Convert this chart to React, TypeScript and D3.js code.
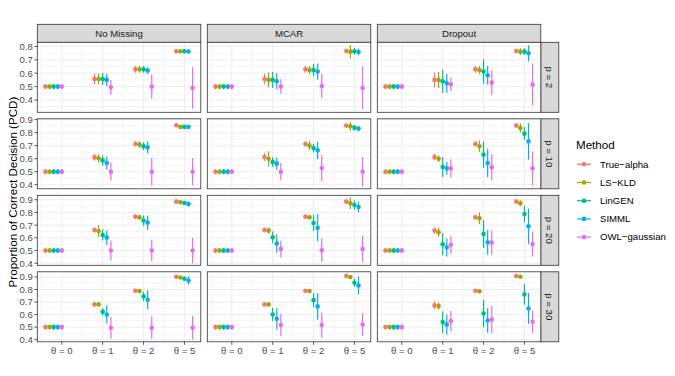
import React from "react";
import * as d3 from "d3";

// methods, colours and facet labels
const methods = ["True\u2212alpha", "LS\u2212KLD", "LinGEN", "SIMML", "OWL\u2212gaussian"];
const methodColors = ["#F8766D", "#A3A500", "#00BF7D", "#00B0F6", "#E76BF3"];
const thetas = ["\u03b8 = 0", "\u03b8 = 1", "\u03b8 = 2", "\u03b8 = 5"];
const missingTypes = ["No Missing", "MCAR", "Dropout"];
const pLabels = ["p = 2", "p = 10", "p = 20", "p = 30"];

// y limits of each p row (free y scales)
const yLimits = [
  [0.308, 0.831],
  [0.369, 0.906],
  [0.384, 0.935],
  [0.383, 0.941],
];

// PCD per panel: one row per theta, [mean, half-width] per method
const base = [[0.5, 0.02], [0.5, 0.02], [0.5, 0.02], [0.5, 0.02], [0.5, 0.02]];

const p2NoMissing = [
  base,
  [[0.557, 0.04], [0.557, 0.04], [0.557, 0.045], [0.55, 0.045], [0.495, 0.055]],
  [[0.629, 0.025], [0.629, 0.025], [0.629, 0.025], [0.62, 0.025], [0.5, 0.09]],
  [[0.764, 0.015], [0.764, 0.015], [0.764, 0.015], [0.762, 0.015], [0.49, 0.155]],
];
const p2MCAR = [
  base,
  [[0.557, 0.04], [0.55, 0.055], [0.55, 0.06], [0.54, 0.06], [0.5, 0.055]],
  [[0.629, 0.025], [0.624, 0.03], [0.624, 0.045], [0.612, 0.06], [0.505, 0.09]],
  [[0.766, 0.015], [0.761, 0.05], [0.764, 0.025], [0.759, 0.025], [0.49, 0.16]],
];
const p2Dropout = [
  base,
  [[0.55, 0.055], [0.55, 0.06], [0.54, 0.085], [0.525, 0.07], [0.517, 0.05]],
  [[0.629, 0.025], [0.624, 0.03], [0.612, 0.09], [0.585, 0.07], [0.53, 0.09]],
  [[0.766, 0.015], [0.761, 0.025], [0.761, 0.025], [0.749, 0.06], [0.515, 0.155]],
];

const p10NoMissing = [
  base,
  [[0.61, 0.025], [0.603, 0.032], [0.587, 0.04], [0.567, 0.05], [0.5, 0.068]],
  [[0.713, 0.02], [0.708, 0.025], [0.695, 0.03], [0.687, 0.045], [0.5, 0.105]],
  [[0.856, 0.01], [0.844, 0.015], [0.844, 0.015], [0.844, 0.015], [0.5, 0.105]],
];
const p10MCAR = [
  base,
  [[0.613, 0.03], [0.6, 0.058], [0.574, 0.037], [0.562, 0.048], [0.5, 0.067]],
  [[0.713, 0.02], [0.7, 0.035], [0.682, 0.033], [0.664, 0.068], [0.528, 0.1]],
  [[0.854, 0.01], [0.849, 0.035], [0.838, 0.02], [0.831, 0.02], [0.5, 0.113]],
];
const p10Dropout = [
  base,
  [[0.613, 0.025], [0.6, 0.025], [0.536, 0.077], [0.526, 0.05], [0.526, 0.07]],
  [[0.713, 0.02], [0.695, 0.044], [0.631, 0.1], [0.567, 0.11], [0.533, 0.1]],
  [[0.854, 0.01], [0.836, 0.035], [0.792, 0.05], [0.733, 0.14], [0.526, 0.13]],
];

const p20NoMissing = [
  base,
  [[0.662, 0.02], [0.654, 0.047], [0.623, 0.043], [0.602, 0.058], [0.5, 0.08]],
  [[0.767, 0.015], [0.762, 0.02], [0.736, 0.04], [0.72, 0.056], [0.5, 0.085]],
  [[0.885, 0.01], [0.88, 0.012], [0.874, 0.015], [0.867, 0.02], [0.5, 0.1]],
];
const p20MCAR = [
  base,
  [[0.662, 0.02], [0.657, 0.025], [0.605, 0.048], [0.555, 0.072], [0.513, 0.065]],
  [[0.767, 0.012], [0.762, 0.02], [0.717, 0.063], [0.68, 0.107], [0.503, 0.094]],
  [[0.885, 0.01], [0.872, 0.045], [0.859, 0.035], [0.843, 0.042], [0.513, 0.105]],
];
const p20Dropout = [
  base,
  [[0.657, 0.025], [0.644, 0.035], [0.55, 0.088], [0.524, 0.07], [0.545, 0.068]],
  [[0.762, 0.02], [0.754, 0.045], [0.631, 0.11], [0.565, 0.097], [0.563, 0.095]],
  [[0.885, 0.01], [0.872, 0.025], [0.788, 0.065], [0.691, 0.139], [0.552, 0.098]],
];

const p30NoMissing = [
  base,
  [[0.681, 0.015], [0.681, 0.015], [0.622, 0.03], [0.601, 0.073], [0.495, 0.085]],
  [[0.79, 0.012], [0.787, 0.015], [0.745, 0.037], [0.718, 0.076], [0.495, 0.09]],
  [[0.902, 0.008], [0.896, 0.01], [0.886, 0.015], [0.872, 0.033], [0.495, 0.094]],
];
const p30MCAR = [
  base,
  [[0.681, 0.015], [0.681, 0.015], [0.601, 0.053], [0.566, 0.084], [0.516, 0.088]],
  [[0.79, 0.012], [0.787, 0.012], [0.715, 0.055], [0.665, 0.106], [0.516, 0.1]],
  [[0.907, 0.008], [0.899, 0.008], [0.854, 0.033], [0.832, 0.073], [0.521, 0.09]],
];
const p30Dropout = [
  base,
  [[0.673, 0.03], [0.668, 0.03], [0.54, 0.085], [0.521, 0.08], [0.548, 0.08]],
  [[0.79, 0.012], [0.785, 0.015], [0.609, 0.11], [0.553, 0.097], [0.561, 0.11]],
  [[0.907, 0.008], [0.902, 0.008], [0.761, 0.082], [0.649, 0.124], [0.543, 0.09]],
];

const panels = [
  [p2NoMissing, p2MCAR, p2Dropout],
  [p10NoMissing, p10MCAR, p10Dropout],
  [p20NoMissing, p20MCAR, p20Dropout],
  [p30NoMissing, p30MCAR, p30Dropout],
];

// layout
const W = 675;
const H = 376;
const left0 = 37.3;
const panelW = 163.5;
const colStep = 170;
const top0 = 42.3;
const panelH = 70;
const rowStep = 76.5;
const stripSize = 18;
const font = "'Liberation Sans', Arial, Helvetica, sans-serif";

// dodge: theta = 0 group sits left of its tick
const dodgeStep = 0.1;
const groupShift = [-0.2, 0, 0, 0];

const fmt = d3.format(".1f");

function Panel({ row, col }: { row: number; col: number }) {
  const x0 = left0 + col * colStep;
  const y0 = top0 + row * rowStep;
  const x = d3.scaleLinear().domain([-0.6, 3.4]).range([x0, x0 + panelW]);
  const y = d3.scaleLinear().domain(yLimits[row]).range([y0 + panelH, y0]);
  const [lo, hi] = yLimits[row];
  const major = d3.range(Math.ceil(lo * 10), Math.floor(hi * 10) + 1).map((d) => d / 10);
  const minor = d3
    .range(Math.ceil(lo * 10 - 0.5), Math.floor(hi * 10 - 0.5) + 1)
    .map((d) => (d + 0.5) / 10);
  const xMajor = d3.range(thetas.length);
  const xMinor = [-0.5, 0.5, 1.5, 2.5];
  const data = panels[row][col];

  return (
    <g>
      <rect x={x0} y={y0} width={panelW} height={panelH} fill="#fff" />
      {minor.map((v) => (
        <line key={"ym" + v} x1={x0} x2={x0 + panelW} y1={y(v)} y2={y(v)} stroke="#ebebeb" strokeWidth={0.5} />
      ))}
      {xMinor.map((v) => (
        <line key={"xm" + v} x1={x(v)} x2={x(v)} y1={y0} y2={y0 + panelH} stroke="#ebebeb" strokeWidth={0.5} />
      ))}
      {major.map((v) => (
        <line key={"yM" + v} x1={x0} x2={x0 + panelW} y1={y(v)} y2={y(v)} stroke="#ebebeb" strokeWidth={0.9} />
      ))}
      {xMajor.map((v) => (
        <line key={"xM" + v} x1={x(v)} x2={x(v)} y1={y0} y2={y0 + panelH} stroke="#ebebeb" strokeWidth={0.9} />
      ))}
      {data.map((group, ti) =>
        group.map(([m, h], mi) => {
          const cx = x(ti + groupShift[ti] + (mi - 2) * dodgeStep);
          return (
            <g key={ti + "-" + mi}>
              <line x1={cx} x2={cx} y1={y(m - h)} y2={y(m + h)} stroke={methodColors[mi]} strokeWidth={1.2} />
              <circle cx={cx} cy={y(m)} r={2.3} fill={methodColors[mi]} />
            </g>
          );
        })
      )}
      <rect x={x0} y={y0} width={panelW} height={panelH} fill="none" stroke="#333" strokeWidth={0.8} />
      {col === 0 &&
        major.map((v) => (
          <g key={"yt" + v}>
            <line x1={x0 - 3} x2={x0} y1={y(v)} y2={y(v)} stroke="#333" strokeWidth={0.8} />
            <text x={x0 - 4.5} y={y(v)} dy="0.35em" textAnchor="end" fontSize={9.6} fill="#4d4d4d">
              {fmt(v)}
            </text>
          </g>
        ))}
      {row === pLabels.length - 1 &&
        xMajor.map((v) => (
          <g key={"xt" + v}>
            <line x1={x(v)} x2={x(v)} y1={y0 + panelH} y2={y0 + panelH + 3} stroke="#333" strokeWidth={0.8} />
            <text x={x(v)} y={y0 + panelH + 12} textAnchor="middle" fontSize={9.6} fill="#4d4d4d">
              {thetas[v]}
            </text>
          </g>
        ))}
    </g>
  );
}

export default function App() {
  const legendX = 576;
  const legendY = 164.3;
  const keyStep = 18.2;
  const midY = top0 + ((pLabels.length - 1) * rowStep + panelH) / 2;
  const stripX = left0 + (missingTypes.length - 1) * colStep + panelW;

  return (
    <svg
      width={W}
      height={H}
      style={{ position: "absolute", left: 0, top: 0, fontFamily: font }}
    >
      <rect width={W} height={H} fill="#fff" />
      {missingTypes.map((mt, c) => (
        <g key={mt}>
          <rect
            x={left0 + c * colStep}
            y={top0 - stripSize}
            width={panelW}
            height={stripSize}
            fill="#d9d9d9"
            stroke="#333"
            strokeWidth={0.8}
          />
          <text
            x={left0 + c * colStep + panelW / 2}
            y={top0 - stripSize / 2}
            dy="0.35em"
            textAnchor="middle"
            fontSize={9.6}
            fill="#1a1a1a"
          >
            {mt}
          </text>
        </g>
      ))}
      {pLabels.map((pl, r) => (
        <g key={pl}>
          <rect
            x={stripX}
            y={top0 + r * rowStep}
            width={stripSize}
            height={panelH}
            fill="#d9d9d9"
            stroke="#333"
            strokeWidth={0.8}
          />
          <text
            transform={`translate(${stripX + stripSize / 2},${top0 + r * rowStep + panelH / 2}) rotate(90)`}
            dy="0.35em"
            textAnchor="middle"
            fontSize={9.6}
            fill="#1a1a1a"
          >
            {pl}
          </text>
        </g>
      ))}
      {pLabels.map((_, r) =>
        missingTypes.map((_, c) => <Panel key={r + "-" + c} row={r} col={c} />)
      )}
      <text
        transform={`translate(12.5,${midY}) rotate(-90)`}
        dy="0.35em"
        textAnchor="middle"
        fontSize={11.6}
        fill="#000"
      >
        Proportion of Correct Decision (PCD)
      </text>
      <text x={legendX} y={145} dy="0.35em" fontSize={11.6} fill="#000">
        Method
      </text>
      {methods.map((m, i) => (
        <g key={m}>
          <line
            x1={legendX + 1}
            x2={legendX + 15}
            y1={legendY + i * keyStep}
            y2={legendY + i * keyStep}
            stroke={methodColors[i]}
            strokeWidth={1.2}
          />
          <circle cx={legendX + 8} cy={legendY + i * keyStep} r={2.3} fill={methodColors[i]} />
          <text x={legendX + 24} y={legendY + i * keyStep} dy="0.35em" fontSize={9.6} fill="#000">
            {m}
          </text>
        </g>
      ))}
    </svg>
  );
}
